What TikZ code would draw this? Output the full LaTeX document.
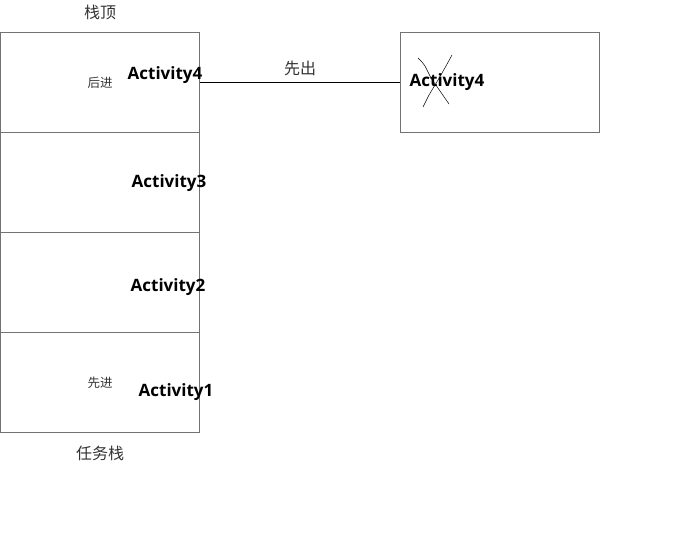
\documentclass[tikz,border=0pt]{standalone}
\usepackage{fontspec}
\setmainfont{Open Sans}
\newfontfamily\cjk{Noto Sans CJK SC}
\begin{document}
\begin{tikzpicture}[x=1pt,y=-1pt,
  stackbox/.style={draw=black!55,line width=1pt,minimum width=199pt,minimum height=100pt,inner sep=0pt,anchor=north west},
  act/.style={font=\bfseries\fontsize{17}{17}\selectfont,text=black,inner sep=0pt},
  bigcn/.style={font=\cjk\fontsize{16}{16}\selectfont,text=black!80,inner sep=0pt},
  smallcn/.style={font=\cjk\fontsize{12.5}{12.5}\selectfont,text=black!80,inner sep=0pt}]
\useasboundingbox (0,0) rectangle (673,533);
\node[stackbox] (b4) at (0,32) {};
\node[stackbox] (b3) at (0,132) {};
\node[stackbox] (b2) at (0,232) {};
\node[stackbox] (b1) at (0,332) {};
\node[stackbox] (out) at (400,32) {};
\node[bigcn] (top) at (100,12) {栈顶};
\node[bigcn] (stack) at (100,453) {任务栈};
\node[smallcn] (hj) at (100,83) {后进};
\node[smallcn] (xj) at (100,383) {先进};
\node[act] (a4) at (165,75) {Activity4};
\node[act] (a3) at (169,183) {Activity3};
\node[act] (a2) at (168,287) {Activity2};
\node[act] (a1) at (176,392) {Activity1};
\node[act] (a4o) at (447,82) {Activity4};
\draw[black,line width=0.8pt] (b4.east) -- (out.west) node[midway,above=6pt,bigcn] (xc) {先出};
\coordinate (c1) at (418,58); \coordinate (c2) at (449,104);
\coordinate (c3) at (452,55); \coordinate (c4) at (423,107);
\draw[black,line width=0.5pt] (c1) -- (422,62) -- (425,66) -- (431,78) -- (440,91) -- (c2);
\draw[black,line width=0.5pt] (c3) -- (446,66) -- (438,80) -- (429,95) -- (c4);
\end{tikzpicture}
\end{document}
